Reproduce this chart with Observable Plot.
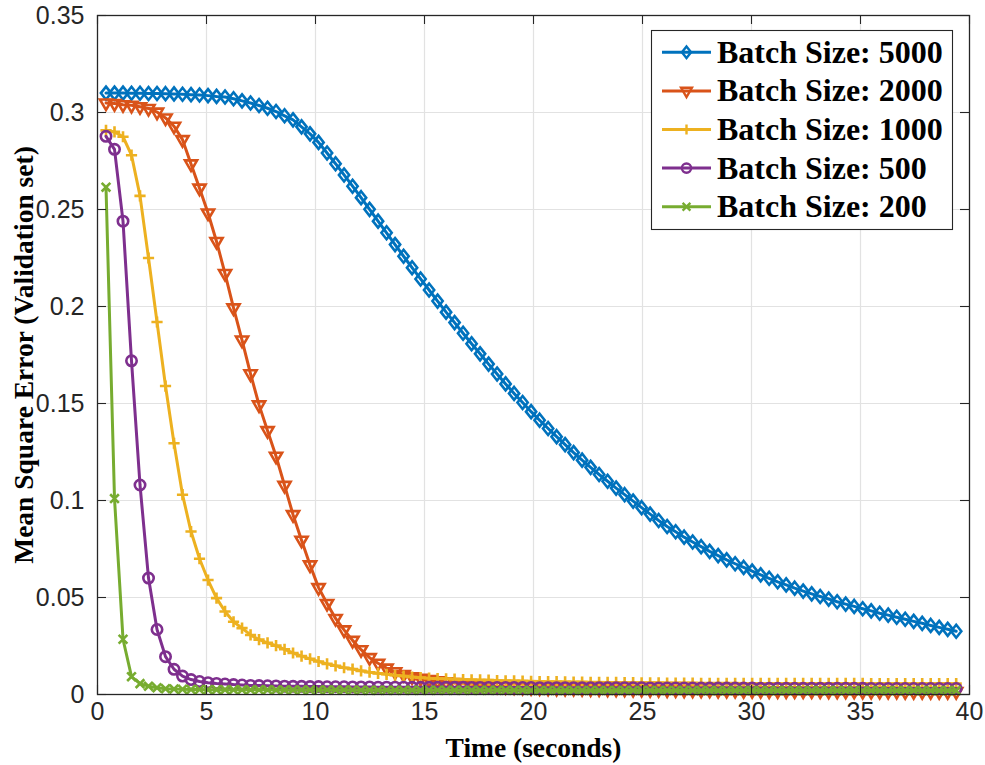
<!DOCTYPE html>
<html><head><meta charset="utf-8">
<script src="https://cdn.jsdelivr.net/npm/d3@7"></script>
<script src="https://cdn.jsdelivr.net/npm/@observablehq/plot@0.6"></script>
<style>html,body{margin:0;padding:0;background:#fff;overflow:hidden}</style>
</head><body><div id="chart"></div>
<script>
// ---------------- DATA ----------------
const xTicks = [0, 5, 10, 15, 20, 25, 30, 35, 40];
const yTicks = [0, 0.05, 0.1, 0.15, 0.2, 0.25, 0.3, 0.35];
const xLabel = "Time (seconds)";
const yLabel = "Mean Square Error (Validation set)";
const seriesNames = ["Batch Size: 5000", "Batch Size: 2000", "Batch Size: 1000", "Batch Size: 500", "Batch Size: 200"];

const time = [0.39,0.78,1.17,1.56,1.95,2.34,2.73,3.12,3.51,3.90,
4.29,4.68,5.07,5.46,5.85,6.24,6.63,7.02,7.41,7.80,
8.19,8.58,8.97,9.36,9.75,10.14,10.53,10.92,11.31,11.70,
12.09,12.48,12.87,13.26,13.65,14.04,14.43,14.82,15.21,15.60,
15.99,16.38,16.77,17.16,17.55,17.94,18.33,18.72,19.11,19.50,
19.89,20.28,20.67,21.06,21.45,21.84,22.23,22.62,23.01,23.40,
23.79,24.18,24.57,24.96,25.35,25.74,26.13,26.52,26.91,27.30,
27.69,28.08,28.47,28.86,29.25,29.64,30.03,30.42,30.81,31.20,
31.59,31.98,32.37,32.76,33.15,33.54,33.93,34.32,34.71,35.10,
35.49,35.88,36.27,36.66,37.05,37.44,37.83,38.22,38.61,39.00,
39.39];

const mse5000 = [0.3100,0.3100,0.3100,0.3099,0.3099,0.3098,0.3098,0.3097,0.3096,0.3094,
0.3092,0.3090,0.3087,0.3083,0.3080,0.3071,0.3060,0.3049,0.3036,0.3022,
0.3005,0.2983,0.2962,0.2926,0.2890,0.2846,0.2791,0.2736,0.2678,0.2620,
0.2561,0.2501,0.2440,0.2380,0.2319,0.2259,0.2200,0.2142,0.2085,0.2028,
0.1971,0.1917,0.1862,0.1808,0.1756,0.1703,0.1652,0.1601,0.1552,0.1505,
0.1458,0.1414,0.1371,0.1329,0.1288,0.1247,0.1208,0.1171,0.1134,0.1099,
0.1064,0.1030,0.0997,0.0963,0.0930,0.0897,0.0866,0.0839,0.0811,0.0786,
0.0762,0.0738,0.0716,0.0694,0.0674,0.0655,0.0636,0.0617,0.0599,0.0581,
0.0565,0.0548,0.0533,0.0519,0.0505,0.0492,0.0478,0.0466,0.0454,0.0442,
0.0431,0.0419,0.0409,0.0398,0.0388,0.0377,0.0367,0.0356,0.0346,0.0336,
0.0326];

const mse2000 = [0.3049,0.3046,0.3040,0.3037,0.3030,0.3021,0.3002,0.2972,0.2929,0.2860,
0.2735,0.2610,0.2482,0.2335,0.2170,0.1993,0.1827,0.1653,0.1493,0.1360,
0.1228,0.1078,0.0927,0.0795,0.0668,0.0551,0.0469,0.0392,0.0333,0.0279,
0.0231,0.0190,0.0161,0.0136,0.0117,0.0103,0.0091,0.0083,0.0077,0.0071,
0.0065,0.0061,0.0057,0.0053,0.0049,0.0046,0.0043,0.0041,0.0039,0.0037,
0.0035,0.0034,0.0033,0.0032,0.0031,0.0031,0.0030,0.0029,0.0029,0.0028,
0.0027,0.0027,0.0026,0.0026,0.0025,0.0025,0.0024,0.0024,0.0023,0.0023,
0.0022,0.0022,0.0021,0.0021,0.0021,0.0020,0.0020,0.0020,0.0019,0.0019,
0.0019,0.0018,0.0018,0.0018,0.0018,0.0017,0.0017,0.0017,0.0017,0.0016,
0.0016,0.0016,0.0016,0.0016,0.0015,0.0015,0.0015,0.0015,0.0015,0.0015,
0.0015];

const mse1000 = [0.2908,0.2900,0.2875,0.2780,0.2570,0.2250,0.1920,0.1590,0.1295,0.1030,
0.0840,0.0700,0.0590,0.0497,0.0428,0.0375,0.0342,0.0307,0.0283,0.0266,
0.0252,0.0233,0.0214,0.0198,0.0184,0.0170,0.0158,0.0148,0.0138,0.0131,
0.0122,0.0115,0.0109,0.0104,0.0099,0.0095,0.0090,0.0087,0.0084,0.0082,
0.0081,0.0079,0.0077,0.0076,0.0075,0.0074,0.0072,0.0071,0.0070,0.0069,
0.0068,0.0067,0.0066,0.0066,0.0065,0.0064,0.0064,0.0063,0.0063,0.0062,
0.0062,0.0061,0.0061,0.0060,0.0060,0.0060,0.0059,0.0059,0.0059,0.0059,
0.0058,0.0058,0.0058,0.0058,0.0058,0.0057,0.0057,0.0057,0.0057,0.0057,
0.0057,0.0057,0.0057,0.0057,0.0057,0.0057,0.0057,0.0057,0.0057,0.0057,
0.0056,0.0056,0.0056,0.0056,0.0056,0.0056,0.0056,0.0056,0.0056,0.0056,
0.0056];

const mse500 = [0.2877,0.2810,0.2440,0.1720,0.1080,0.0600,0.0335,0.0195,0.0130,0.0095,
0.0077,0.0067,0.0061,0.0057,0.0054,0.0051,0.0049,0.0047,0.0046,0.0045,
0.0044,0.0043,0.0042,0.0042,0.0041,0.0041,0.0040,0.0040,0.0040,0.0039,
0.0039,0.0039,0.0038,0.0038,0.0038,0.0038,0.0037,0.0037,0.0037,0.0037,
0.0037,0.0037,0.0037,0.0036,0.0036,0.0036,0.0036,0.0036,0.0036,0.0036,
0.0036,0.0035,0.0035,0.0035,0.0035,0.0035,0.0035,0.0035,0.0035,0.0035,
0.0035,0.0035,0.0035,0.0035,0.0034,0.0034,0.0034,0.0034,0.0034,0.0034,
0.0033,0.0033,0.0033,0.0033,0.0033,0.0033,0.0033,0.0032,0.0032,0.0032,
0.0032,0.0032,0.0032,0.0032,0.0032,0.0032,0.0032,0.0032,0.0032,0.0032,
0.0031,0.0031,0.0031,0.0031,0.0031,0.0031,0.0031,0.0031,0.0031,0.0031,
0.0031];

const mse200 = [0.2615,0.1010,0.0285,0.0092,0.0056,0.0043,0.0035,0.0030,0.0028,0.0027,
0.0026,0.0026,0.0025,0.0025,0.0025,0.0024,0.0024,0.0024,0.0024,0.0024,
0.0023,0.0023,0.0023,0.0023,0.0023,0.0023,0.0023,0.0023,0.0023,0.0023,
0.0022,0.0022,0.0022,0.0022,0.0022,0.0022,0.0022,0.0022,0.0022,0.0022,
0.0022,0.0022,0.0022,0.0022,0.0022,0.0022,0.0022,0.0022,0.0022,0.0022,
0.0021,0.0021,0.0021,0.0021,0.0021,0.0021,0.0021,0.0021,0.0021,0.0021,
0.0021,0.0021,0.0021,0.0021,0.0021,0.0021,0.0021,0.0021,0.0021,0.0021,
0.0020,0.0020,0.0020,0.0020,0.0020,0.0020,0.0020,0.0020,0.0020,0.0020,
0.0020,0.0020,0.0020,0.0020,0.0020,0.0020,0.0020,0.0020,0.0020,0.0020,
0.0020,0.0020,0.0020,0.0020,0.0020,0.0020,0.0020,0.0020,0.0020,0.0020,
0.0020];

// ---------------- STYLE ----------------
const colors = ["#0072BD", "#D95319", "#EDB120", "#7E2F8E", "#77AC30"];

const symDiamond = {draw(ctx, size) { const r = Math.sqrt(size / Math.PI);
  ctx.moveTo(0, -r * 1.2); ctx.lineTo(r * 0.95, 0); ctx.lineTo(0, r * 1.2); ctx.lineTo(-r * 0.95, 0); ctx.closePath(); }};
const symTriDown = {draw(ctx, size) { const r = Math.sqrt(size / Math.PI);
  ctx.moveTo(-r * 0.866, -r * 0.5); ctx.lineTo(r * 0.866, -r * 0.5); ctx.lineTo(0, r); ctx.closePath(); }};
const symPlus = {draw(ctx, size) { const r = Math.sqrt(size / Math.PI);
  ctx.moveTo(-r, 0); ctx.lineTo(r, 0); ctx.moveTo(0, -r); ctx.lineTo(0, r); }};
const symTimes = {draw(ctx, size) { const r = Math.sqrt(size / Math.PI) * 0.75;
  ctx.moveTo(-r, -r); ctx.lineTo(r, r); ctx.moveTo(r, -r); ctx.lineTo(-r, r); }};
const symCircle = {draw(ctx, size) { const r = Math.sqrt(size / Math.PI);
  ctx.moveTo(r, 0); ctx.arc(0, 0, r, 0, 2 * Math.PI); }};

const symbols = [symDiamond, symTriDown, symPlus, symCircle, symTimes];
const radii = [5.4, 7.0, 5.6, 5.2, 5.8];
const allValues = [mse5000, mse2000, mse1000, mse500, mse200];

const series = seriesNames.map((name, i) => ({
  name, color: colors[i], symbol: symbols[i], r: radii[i],
  rows: time.map((t, j) => ({t, v: allValues[i][j]}))
}));

// ---------------- CHART ----------------
const W = 985, H = 765, mL = 97, mR = 16, mT = 15, mB = 71;
const innerH = H - mT - mB, innerW = W - mL - mR, tickLen = 9;
const inkColor = "#262626";
const serif = "'Liberation Serif', 'Times New Roman', serif";

const seriesMarks = series.flatMap(s => [
  Plot.line(s.rows, {x: "t", y: "v", stroke: s.color, strokeWidth: 3, curve: "linear"}),
  Plot.dot(s.rows, {x: "t", y: "v", symbol: s.symbol, r: s.r, fill: "none", stroke: s.color, strokeWidth: 2.6})
]);

const chart = Plot.plot({
  width: W, height: H,
  marginLeft: mL, marginRight: mR, marginTop: mT, marginBottom: mB,
  x: {domain: [0, 40]},
  y: {domain: [0, 0.35]},
  style: {fontFamily: "'Liberation Sans', Arial, Helvetica, sans-serif", fontSize: "25px", color: inkColor, background: "#fff"},
  marks: [
    Plot.ruleX(xTicks.slice(1, -1), {x: d => d, stroke: "#e2e2e2", strokeWidth: 1.2}),
    Plot.ruleY(yTicks.slice(1, -1), {y: d => d, stroke: "#e2e2e2", strokeWidth: 1.2}),
    ...seriesMarks,
    Plot.tickX(xTicks, {x: d => d, insetTop: innerH - tickLen, stroke: inkColor, strokeWidth: 1.1}),
    Plot.tickX(xTicks, {x: d => d, insetBottom: innerH - tickLen, stroke: inkColor, strokeWidth: 1.1}),
    Plot.tickY(yTicks, {y: d => d, insetRight: innerW - tickLen, stroke: inkColor, strokeWidth: 1.1}),
    Plot.tickY(yTicks, {y: d => d, insetLeft: innerW - tickLen, stroke: inkColor, strokeWidth: 1.1}),
    Plot.frame({stroke: inkColor, strokeWidth: 1.3}),
    Plot.axisX({ticks: xTicks, tickSize: 0, tickPadding: 8, label: null, tickFormat: d => String(d), fontSize: 25}),
    Plot.axisY({ticks: yTicks, tickSize: 0, tickPadding: 13, label: null, tickFormat: d => String(d), fontSize: 25}),
    Plot.text([xLabel], {text: d => d, frameAnchor: "bottom", dy: 54, lineAnchor: "middle", textAnchor: "middle",
      fontFamily: serif, fontWeight: "bold", fontSize: 27.5, fill: "#000"}),
    Plot.text([yLabel], {text: d => d, frameAnchor: "left", dx: -73, rotate: -90, lineAnchor: "middle", textAnchor: "middle",
      fontFamily: serif, fontWeight: "bold", fontSize: 27.5, fill: "#000"})
  ]
});

// ---------------- LEGEND (inside plot, top-right) ----------------
const svg = d3.select(chart);
const lg = svg.append("g").attr("class", "legend");
const box = {x: 651.5, y: 30.5, w: 301, h: 199};
lg.append("rect").attr("x", box.x).attr("y", box.y).attr("width", box.w).attr("height", box.h)
  .attr("fill", "#fff").attr("stroke", inkColor).attr("stroke-width", 1.1);
series.forEach((s, i) => {
  const cy = 52.3 + i * 38.6;
  const g = lg.append("g");
  g.append("line").attr("x1", 662).attr("x2", 711).attr("y1", cy).attr("y2", cy)
    .attr("stroke", s.color).attr("stroke-width", 3);
  g.append("path").attr("transform", `translate(686.5,${cy})`)
    .attr("d", d3.symbol(s.symbol, Math.PI * s.r * s.r * 0.8)())
    .attr("fill", "none").attr("stroke", s.color).attr("stroke-width", 2.4);
  g.append("text").attr("x", 717).attr("y", cy + 10.5).text(s.name)
    .attr("text-anchor", "start")
    .attr("font-family", serif)
    .attr("font-weight", "bold").attr("font-size", 32).attr("fill", "#000");
});

document.getElementById("chart").appendChild(chart);
</script>
</body></html>
